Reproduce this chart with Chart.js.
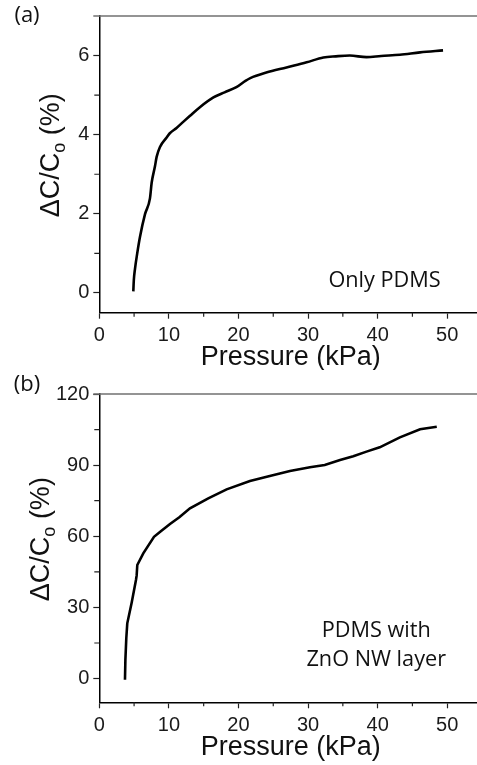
<!DOCTYPE html>
<html>
<head>
<meta charset="utf-8">
<script src="https://cdn.jsdelivr.net/npm/chart.js@4.4.1/dist/chart.umd.min.js"></script>
<style>
  html, body { margin: 0; padding: 0; background: #fff; overflow: hidden; }
  canvas { display: block; }
</style>
</head>
<body>
<canvas id="chartA" width="484" height="370"></canvas>
<canvas id="chartB" width="484" height="395"></canvas>
<script>
// panel (a): only PDMS
var pressureA = [4.89, 4.96, 5.13, 5.45, 5.85, 6.57, 7.28, 7.53, 8.0, 8.24, 8.72, 9.68, 10.1, 11.1, 12.1, 13.0, 14.5, 16.4, 18.0, 19.7, 21.0, 21.7, 24.0, 26.9, 29.8, 32.2, 34.0, 36.0, 38.4, 40.5, 43.2, 46.1, 49.4];
var capA = [0.04, 0.32, 0.61, 1.0, 1.42, 1.99, 2.39, 2.79, 3.2, 3.44, 3.69, 3.93, 4.03, 4.17, 4.33, 4.47, 4.70, 4.94, 5.07, 5.20, 5.36, 5.43, 5.57, 5.70, 5.83, 5.95, 5.98, 6.0, 5.96, 5.99, 6.02, 6.08, 6.13];

// panel (b): PDMS with ZnO NW layer
var pressureB = [3.69, 3.75, 3.88, 4.02, 4.65, 5.27, 5.37, 5.46, 6.32, 7.86, 8.8, 10.16, 11.5, 13.03, 15.66, 18.3, 21.65, 24.5, 27.4, 30.27, 32.4, 34.6, 36.5, 38.4, 40.3, 43.2, 46.1, 48.5];
var capB = [-0.5, 8, 17, 23.3, 32, 41.6, 43.5, 47.9, 52.8, 59.8, 62, 65.2, 68, 71.8, 76.0, 79.8, 83.3, 85.4, 87.5, 89.1, 90.05, 92.2, 93.8, 95.7, 97.5, 101.7, 105.1, 106.2];

// tick values
var xTicks = [0, 10, 20, 30, 40, 50];
var xMinor = [5, 15, 25, 35, 45];
var yTicksA = [0, 2, 4, 6];
var yMinorA = [1, 3, 5];
var yTicksB = [0, 30, 60, 90, 120];
var yMinorB = [15, 45, 75, 105];

var tickFont = { family: "'Liberation Sans', Arial, sans-serif", size: 20 };
var titleFont = "27px 'Liberation Sans', Arial, sans-serif";
var noteFont = "21.7px 'Open Sans', sans-serif";

// draws the frame top line, minor ticks, axis titles and notes
var decorPlugin = {
  id: "decor",
  afterDraw: function (chart) {
    var o = chart.options.plugins.decor;
    var ctx = chart.ctx;
    var area = chart.chartArea;
    var xs = chart.scales.x;
    var ys = chart.scales.y;
    ctx.save();

    ctx.strokeStyle = "#707070";
    ctx.lineWidth = 1.6;
    ctx.beginPath();
    ctx.moveTo(area.left - 6, area.top);
    ctx.lineTo(area.right, area.top);
    ctx.stroke();

    // minor ticks
    ctx.strokeStyle = "#222";
    ctx.lineWidth = 1.2;
    ctx.beginPath();
    o.xMinor.forEach(function (v) {
      var px = xs.getPixelForValue(v);
      ctx.moveTo(px, area.bottom);
      ctx.lineTo(px, area.bottom + 4);
    });
    o.yMinor.forEach(function (v) {
      var py = ys.getPixelForValue(v);
      ctx.moveTo(area.left, py);
      ctx.lineTo(area.left - 5, py);
    });
    ctx.stroke();

    ctx.fillStyle = "#111";
    // x title
    ctx.font = titleFont;
    ctx.textAlign = "center";
    ctx.textBaseline = "middle";
    ctx.fillText("Pressure (kPa)", (area.left + area.right) / 2, area.bottom + 45);

    // y title with subscript o
    ctx.save();
    ctx.translate(o.yTitleX, (area.top + area.bottom) / 2 - 9);
    ctx.rotate(-Math.PI / 2);
    var mainA = "\u0394C/C";
    var sub = "o";
    var mainB = " (%)";
    ctx.font = titleFont;
    var wA = ctx.measureText(mainA).width;
    var wB = ctx.measureText(mainB).width;
    ctx.font = "18px 'Liberation Sans', Arial, sans-serif";
    var wS = ctx.measureText(sub).width;
    var start = -(wA + wS + wB) / 2;
    ctx.textAlign = "left";
    ctx.textBaseline = "alphabetic";
    ctx.font = titleFont;
    ctx.fillText(mainA, start, 9);
    ctx.font = "18px 'Liberation Sans', Arial, sans-serif";
    ctx.fillText(sub, start + wA, 15);
    ctx.font = titleFont;
    ctx.fillText(mainB, start + wA + wS, 9);
    ctx.restore();

    // panel label
    ctx.font = "22px 'Open Sans', sans-serif";
    ctx.textAlign = "center";
    ctx.textBaseline = "middle";
    ctx.fillText(o.panel, 27, o.panelY);

    // note
    ctx.font = noteFont;
    o.notes.forEach(function (n) {
      ctx.fillText(n.text, xs.getPixelForValue(n.x), ys.getPixelForValue(n.y));
    });
    ctx.restore();
  }
};

function makeChart(id, xs, ys, yMin, yMax, yTicks, yMinor, chartTop, axisH, smooth, decor) {
  decor.xMinor = xMinor;
  decor.yMinor = yMinor;
  var ds = {
    data: xs.map(function (p, i) { return { x: p, y: ys[i] }; }),
    showLine: true,
    borderColor: "#000",
    borderWidth: 2.6,
    pointRadius: 0,
    tension: 0,
    fill: false
  };
  if (smooth) {
    ds.cubicInterpolationMode = "monotone";
  }
  return new Chart(document.getElementById(id), {
    type: "scatter",
    data: { datasets: [ds] },
    options: {
      responsive: false,
      animation: false,
      layout: { padding: { top: chartTop, left: 0, right: 2, bottom: 0 } },
      plugins: { legend: { display: false }, tooltip: { enabled: false }, decor: decor },
      scales: {
        x: {
          type: "linear",
          min: 0,
          max: 55,
          afterFit: function (s) { s.height = axisH; },
          afterBuildTicks: function (s) { s.ticks = xTicks.map(function (v) { return { value: v }; }); },
          border: { color: "#000", width: 1.5 },
          grid: { drawOnChartArea: false, drawTicks: true, tickLength: 6, tickColor: "#222", tickWidth: 1.2 },
          ticks: { font: tickFont, color: "#1a1a1a", padding: 5, maxRotation: 0 }
        },
        y: {
          type: "linear",
          min: yMin,
          max: yMax,
          afterFit: function (s) { s.width = 99.3; },
          afterBuildTicks: function (s) { s.ticks = yTicks.map(function (v) { return { value: v }; }); },
          border: { color: "#000", width: 1.5 },
          grid: { drawOnChartArea: false, drawTicks: true, tickLength: 6, tickColor: "#222", tickWidth: 1.2 },
          ticks: { font: tickFont, color: "#1a1a1a", padding: 4 }
        }
      }
    },
    plugins: [decorPlugin]
  });
}

makeChart("chartA", pressureA, capA, -0.5, 7, yTicksA, yMinorA, 4, 370 - 312.7, true, {
  panel: "(a)", panelY: 16, yTitleX: 50,
  notes: [{ text: "Only PDMS", x: 41, y: 0.3 }]
});

makeChart("chartB", pressureB, capB, -10, 120, yTicksB, yMinorB, 24, 395 - 332.3, false, {
  panel: "(b)", panelY: 15, yTitleX: 40,
  notes: [{ text: "PDMS with", x: 39.8, y: 20.1 }, { text: "ZnO NW layer", x: 39.8, y: 8.1 }]
});
</script>
</body>
</html>
